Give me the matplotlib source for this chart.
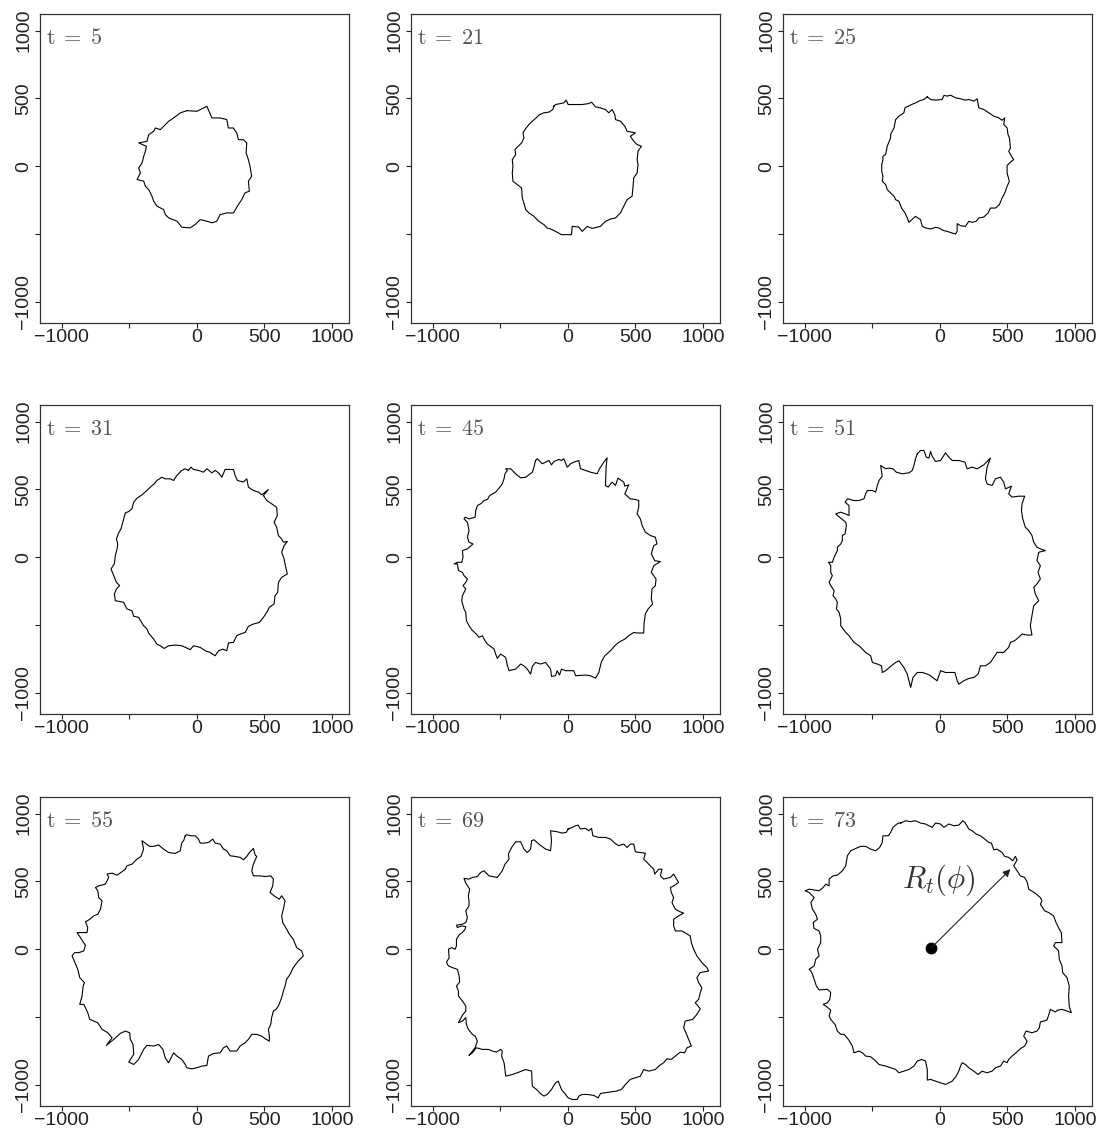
import numpy as np
import matplotlib
matplotlib.use("Agg")
import matplotlib.pyplot as plt

plt.rcParams['font.family'] = ['Liberation Sans', 'DejaVu Sans']
plt.rcParams['mathtext.fontset'] = 'cm'

# Front outlines (data units)
times = [5, 21, 25, 31, 45, 51, 55, 69, 73]

x5 = [-74, 0, 74, 111, 172, 221, 233, 270, 295, 307, 344, 369, 364, 381, 393, 405, 381, 388, 356, 332,
      300, 270, 221, 172, 147, 111, 74, 25, -12, -49, -111, -147, -209, -233, -246, -295, -319, -332, -356, -381,
      -393, -442, -418, -430, -405, -393, -381, -373, -430, -369, -356, -319, -307, -270, -246, -209, -172, -123]
y5 = [410, 405, 442, 356, 356, 344, 282, 282, 245, 196, 196, 172, 98, 49, 0, -74, -110, -184, -196, -245,
      -294, -344, -344, -356, -405, -417, -405, -393, -429, -454, -449, -405, -380, -356, -319, -294, -258, -221, -172, -147,
      -110, -98, -49, -12, 25, 74, 110, 147, 172, 184, 233, 258, 282, 270, 294, 331, 356, 393]

x21 = [-103, -91, -54, -30, -12, 2, 57, 106, 155, 175, 204, 241, 278, 303, 327, 347, 352, 389, 421, 438,
       475, 499, 462, 487, 512, 544, 519, 512, 519, 512, 487, 482, 475, 438, 413, 389, 352, 315, 278, 241,
       180, 143, 106, 81, 32, 27, -47, -91, -128, -153, -177, -214, -251, -288, -312, -325, -337, -342, -374, -406,
       -411, -406, -411, -386, -391, -367, -342, -325, -332, -317, -288, -263, -234, -209, -177, -140, -111]
y21 = [443, 455, 462, 467, 487, 455, 455, 455, 462, 472, 438, 430, 418, 394, 418, 381, 344, 332, 295, 258,
       251, 246, 221, 185, 160, 148, 111, 49, 12, -49, -86, -148, -221, -246, -295, -344, -381, -389, -406, -443,
       -458, -443, -480, -448, -443, -504, -504, -480, -462, -455, -430, -406, -369, -344, -320, -271, -234, -160, -135, -111,
       -49, 0, 49, 86, 123, 148, 172, 209, 246, 271, 308, 332, 357, 381, 394, 399, 418]

x25 = [-93, -69, -32, 17, 30, 54, 79, 116, 153, 189, 214, 251, 276, 288, 325, 362, 399, 435, 460, 480,
       472, 497, 504, 514, 522, 509, 529, 546, 529, 497, 497, 514, 497, 480, 460, 440, 411, 374, 357, 325,
       288, 268, 239, 214, 189, 153, 128, 128, 116, 91, 54, 22, -7, -32, -69, -106, -130, -143, -180, -229,
       -241, -258, -283, -303, -327, -339, -364, -389, -401, -426, -421, -430, -430, -421, -421, -401, -389, -364, -364, -339,
       -327, -303, -266, -258, -234, -209, -180, -143, -118]
y25 = [512, 492, 487, 492, 522, 517, 524, 504, 497, 487, 492, 480, 497, 431, 418, 394, 369, 357, 339, 357,
       308, 283, 234, 209, 135, 111, 74, 49, 37, 5, -49, -111, -148, -197, -234, -283, -308, -308, -344, -374,
       -381, -406, -413, -406, -443, -438, -423, -480, -499, -492, -480, -472, -455, -450, -462, -455, -443, -394, -369, -413,
       -381, -344, -308, -258, -246, -221, -197, -172, -135, -111, -74, -37, 12, 49, 74, 86, 148, 209, 234, 283,
       344, 369, 394, 431, 443, 455, 467, 485, 492]

x31 = [-62, -44, -25, 12, 49, 74, 111, 135, 160, 185, 209, 246, 271, 283, 300, 344, 369, 381, 418, 455,
       480, 529, 492, 517, 553, 590, 595, 571, 590, 603, 627, 640, 669, 645, 627, 645, 652, 669, 627, 603,
       598, 578, 571, 536, 517, 492, 462, 418, 381, 357, 320, 295, 271, 234, 221, 192, 160, 135, 98, 62,
       25, -25, -49, -111, -160, -209, -241, -271, -295, -320, -357, -369, -394, -431, -467, -480, -517, -541, -603, -610,
       -595, -571, -595, -615, -635, -610, -603, -590, -585, -595, -578, -561, -541, -529, -504, -480, -467, -443, -406, -369,
       -344, -315, -295, -258, -234, -197, -172, -148, -111, -86]
y31 = [640, 664, 647, 640, 627, 652, 622, 640, 622, 590, 647, 647, 647, 603, 566, 554, 578, 517, 492, 480,
       460, 499, 455, 418, 394, 369, 308, 258, 221, 160, 135, 111, 116, 86, 37, -12, -49, -123, -148, -185,
       -258, -283, -344, -369, -406, -443, -480, -492, -509, -554, -566, -578, -627, -632, -689, -677, -689, -726, -701, -689,
       -664, -652, -681, -652, -647, -652, -672, -652, -640, -603, -558, -529, -504, -443, -435, -394, -381, -332, -320, -271,
       -234, -209, -185, -135, -86, -49, 12, 62, 98, 135, 180, 209, 283, 327, 337, 357, 406, 435, 460, 492,
       517, 541, 566, 590, 578, 578, 566, 603, 640, 652]

x45 = [-239, -226, -189, -165, -140, -121, -103, -66, -47, -30, -5, 20, 44, 81, 93, 130, 167, 216, 234, 266,
       290, 283, 278, 298, 327, 352, 371, 396, 413, 421, 450, 421, 462, 499, 524, 524, 512, 536, 549, 573,
       610, 647, 659, 635, 617, 642, 684, 635, 617, 652, 647, 622, 617, 627, 593, 573, 563, 561, 512, 487,
       450, 421, 376, 347, 315, 273, 248, 229, 204, 167, 130, 57, 44, -17, -47, -62, -79, -91, -121, -128,
       -165, -202, -239, -263, -276, -300, -325, -349, -386, -435, -448, -460, -497, -522, -534, -546, -571, -595, -613, -632,
       -657, -677, -711, -731, -750, -755, -768, -785, -780, -755, -775, -755, -743, -768, -780, -809, -817, -841, -817, -785,
       -775, -780, -743, -701, -731, -743, -731, -743, -768, -760, -731, -686, -681, -669, -645, -620, -595, -578, -534, -497,
       -485, -472, -465, -448, -460, -423, -386, -349, -312, -263, -251]
y45 = [713, 726, 689, 701, 713, 681, 706, 721, 713, 726, 664, 689, 701, 713, 652, 640, 627, 615, 652, 701,
       733, 664, 529, 517, 554, 529, 583, 566, 554, 524, 534, 467, 430, 426, 418, 369, 320, 283, 234, 185,
       160, 148, 98, 86, 25, -25, -32, -62, -111, -160, -209, -234, -308, -344, -381, -418, -492, -558, -558, -554,
       -578, -603, -627, -652, -689, -726, -770, -849, -891, -873, -868, -873, -836, -836, -824, -868, -836, -873, -878, -824,
       -775, -787, -775, -804, -861, -824, -800, -787, -824, -836, -795, -738, -713, -745, -713, -676, -657, -640, -615, -578,
       -590, -566, -534, -504, -467, -406, -381, -320, -283, -234, -209, -185, -160, -135, -111, -98, -49, -49, -37, -37,
       0, 49, 62, 98, 111, 148, 197, 258, 283, 295, 283, 295, 344, 381, 394, 418, 426, 455, 480, 524,
       541, 578, 615, 640, 652, 652, 615, 585, 590, 627, 664]

x51 = [-167, -143, -118, -101, -81, -69, -57, -32, 5, 42, 66, 91, 140, 185, 202, 239, 276, 325, 374, 349,
       337, 349, 386, 411, 448, 472, 485, 529, 509, 534, 583, 627, 608, 603, 613, 632, 657, 681, 694, 718,
       743, 780, 731, 718, 743, 726, 743, 718, 694, 706, 731, 694, 681, 669, 681, 645, 608, 583, 553, 522,
       509, 472, 423, 399, 374, 337, 300, 283, 251, 214, 177, 140, 128, 111, 66, 42, 5, -20, -44, -69,
       -93, -130, -167, -199, -216, -241, -266, -303, -327, -364, -401, -426, -431, -462, -499, -512, -549, -573, -598, -635,
       -672, -696, -733, -733, -745, -765, -758, -770, -790, -782, -807, -819, -795, -807, -807, -824, -795, -782, -758, -758,
       -733, -721, -721, -701, -691, -696, -758, -770, -733, -701, -672, -672, -701, -684, -635, -598, -561, -549, -536, -499,
       -475, -462, -450, -426, -438, -401, -376, -347, -322, -278, -229, -204, -192, -180]
y51 = [763, 787, 787, 738, 731, 780, 745, 706, 713, 770, 738, 713, 713, 701, 652, 664, 652, 681, 731, 664,
       578, 541, 529, 578, 590, 554, 504, 524, 467, 443, 450, 450, 394, 344, 283, 221, 197, 160, 111, 74,
       62, 49, 37, -25, -62, -111, -160, -197, -221, -271, -320, -357, -430, -504, -573, -573, -566, -590, -615, -627,
       -664, -701, -701, -738, -775, -800, -800, -861, -886, -893, -910, -935, -910, -849, -849, -849, -836, -910, -893, -873,
       -861, -849, -849, -886, -959, -861, -812, -763, -775, -804, -836, -849, -800, -787, -775, -726, -701, -677, -652, -627,
       -578, -554, -504, -455, -406, -381, -332, -308, -283, -246, -209, -185, -135, -111, -62, -37, -37, 0, 49, 74,
       98, 123, 160, 172, 234, 258, 308, 320, 332, 320, 308, 381, 406, 431, 418, 418, 431, 467, 492, 492,
       480, 529, 566, 598, 677, 652, 657, 652, 627, 615, 622, 640, 677, 726]

x55 = [-86, -74, -44, -12, 12, 25, 49, 86, 118, 135, 172, 197, 221, 246, 283, 320, 344, 369, 389, 418,
       431, 443, 418, 406, 418, 462, 504, 546, 566, 561, 541, 578, 610, 627, 652, 640, 627, 635, 664, 684,
       713, 738, 775, 787, 750, 713, 689, 664, 652, 640, 627, 603, 585, 566, 553, 546, 529, 536, 536, 504,
       480, 443, 406, 381, 357, 320, 295, 246, 221, 197, 172, 123, 86, 74, 37, 0, -37, -74, -86, -111,
       -148, -172, -197, -209, -234, -251, -283, -320, -369, -394, -431, -467, -504, -467, -472, -492, -497, -529, -566, -615,
       -669, -627, -659, -701, -733, -763, -792, -807, -836, -866, -849, -841, -831, -866, -881, -891, -923, -905, -873, -836,
       -824, -841, -861, -886, -849, -812, -807, -824, -792, -763, -733, -713, -701, -726, -733, -750, -726, -677, -652, -664,
       -627, -590, -561, -529, -517, -480, -443, -413, -394, -406, -381, -349, -320, -283, -246, -209, -160, -123, -111, -98]
y55 = [836, 844, 836, 836, 812, 782, 782, 787, 812, 782, 775, 738, 726, 689, 684, 677, 659, 684, 713, 743,
       694, 684, 627, 578, 541, 541, 536, 541, 517, 467, 418, 389, 369, 394, 357, 295, 246, 197, 148, 111,
       74, 12, -12, -49, -86, -135, -185, -221, -271, -308, -357, -418, -443, -455, -504, -554, -590, -640, -677, -659,
       -640, -627, -627, -664, -689, -713, -750, -750, -713, -726, -763, -768, -787, -856, -861, -873, -881, -873, -849, -812,
       -787, -763, -812, -836, -800, -738, -701, -713, -708, -738, -812, -849, -831, -775, -701, -664, -615, -603, -620, -664,
       -708, -652, -615, -590, -541, -529, -517, -467, -406, -406, -344, -271, -246, -209, -148, -123, -49, -25, -25, -12,
       30, 54, 86, 123, 123, 123, 160, 202, 221, 246, 258, 295, 357, 381, 431, 455, 467, 480, 529, 554,
       561, 546, 566, 590, 615, 627, 664, 684, 738, 800, 782, 758, 758, 768, 738, 713, 706, 726, 787, 800]

x69 = [2, 32, 57, 76, 93, 130, 155, 175, 185, 229, 278, 315, 347, 376, 413, 438, 462, 487, 499, 536,
       573, 561, 598, 635, 642, 672, 696, 684, 708, 758, 782, 819, 782, 758, 765, 782, 770, 795, 831, 856,
       819, 782, 782, 795, 844, 905, 913, 930, 954, 991, 1028, 1041, 979, 954, 967, 991, 979, 967, 942, 979,
       954, 923, 868, 856, 873, 893, 913, 881, 863, 831, 795, 765, 733, 708, 672, 647, 598, 561, 536, 499,
       462, 426, 396, 357, 303, 241, 224, 192, 143, 106, 81, 69, 32, 2, -17, -47, -71, -91, -103, -121,
       -153, -177, -209, -226, -263, -268, -312, -342, -374, -411, -460, -465, -472, -490, -485, -497, -529, -558, -588, -632,
       -677, -706, -731, -686, -669, -686, -706, -736, -750, -755, -780, -809, -780, -755, -755, -780, -809, -809, -824, -800,
       -804, -817, -854, -883, -898, -878, -883, -859, -834, -824, -824, -804, -780, -760, -755, -785, -817, -824, -780, -755,
       -743, -755, -731, -731, -736, -726, -755, -768, -731, -706, -669, -645, -620, -603, -583, -522, -485, -465, -435, -440,
       -416, -386, -349, -325, -300, -276, -268, -251, -214, -165, -128, -121, -128, -79, -42, -12]
y69 = [886, 898, 910, 915, 886, 891, 873, 891, 836, 824, 824, 812, 782, 763, 775, 750, 775, 775, 718, 713,
       708, 664, 627, 590, 554, 590, 590, 541, 517, 529, 554, 492, 467, 455, 418, 381, 344, 295, 276, 266,
       246, 221, 172, 135, 135, 98, 49, 0, -49, -98, -135, -160, -172, -209, -246, -283, -320, -369, -394, -438,
       -480, -517, -529, -578, -615, -664, -713, -726, -763, -758, -787, -812, -807, -836, -861, -886, -898, -886, -935, -947,
       -959, -996, -1033, -1046, -1053, -1063, -1095, -1077, -1070, -1070, -1082, -1107, -1107, -1095, -1070, -1033, -972, -984, -1004, -1033,
       -1070, -1082, -1058, -1038, -1009, -898, -886, -898, -910, -923, -935, -886, -836, -787, -750, -738, -758, -750, -738, -738,
       -726, -763, -782, -726, -677, -640, -627, -590, -554, -504, -529, -541, -487, -455, -418, -381, -344, -308, -271, -241,
       -197, -148, -135, -123, -98, -62, 0, 12, 0, 25, 74, 106, 123, 148, 167, 172, 160, 177, 185, 197,
       234, 283, 320, 357, 394, 443, 487, 522, 517, 529, 536, 566, 578, 561, 541, 529, 578, 627, 664, 701,
       750, 792, 792, 738, 713, 738, 800, 807, 775, 738, 726, 800, 873, 866, 856, 861]

x73 = [-290, -253, -216, -180, -143, -106, -81, -57, -32, 5, 30, 66, 103, 140, 170, 185, 214, 239, 268, 300,
       332, 362, 381, 399, 423, 460, 480, 509, 539, 558, 571, 546, 571, 595, 627, 645, 657, 706, 743, 755,
       743, 775, 804, 841, 859, 883, 898, 903, 854, 841, 878, 883, 903, 908, 940, 957, 952, 957, 972, 940,
       903, 873, 854, 817, 804, 792, 743, 736, 718, 681, 637, 620, 645, 627, 595, 563, 534, 509, 497, 472,
       448, 411, 386, 349, 312, 283, 251, 214, 189, 165, 153, 140, 121, 91, 42, 5, -32, -69, -93, -93,
       -106, -135, -167, -192, -229, -266, -303, -327, -364, -401, -450, -487, -512, -549, -573, -598, -635, -647, -677, -708,
       -733, -758, -775, -807, -819, -807, -844, -863, -831, -814, -807, -831, -893, -913, -930, -942, -954, -967, -930, -918,
       -893, -905, -881, -881, -893, -930, -937, -905, -918, -942, -954, -930, -967, -996, -967, -893, -863, -844, -819, -819,
       -790, -758, -721, -696, -684, -659, -622, -585, -549, -512, -475, -445, -426, -421, -381, -364, -347, -327, -308]
y73 = [930, 947, 940, 947, 930, 923, 910, 898, 930, 923, 898, 923, 910, 915, 947, 935, 886, 873, 849, 836,
       812, 787, 782, 733, 738, 713, 684, 677, 652, 684, 659, 615, 578, 541, 529, 497, 443, 413, 381, 357,
       332, 283, 271, 246, 197, 148, 123, 49, 49, 25, -12, -74, -123, -172, -209, -271, -344, -423, -467, -455,
       -443, -448, -462, -443, -487, -522, -536, -578, -603, -615, -603, -640, -677, -713, -733, -763, -787, -812, -836, -824,
       -861, -873, -898, -910, -898, -923, -898, -873, -849, -836, -861, -898, -935, -972, -996, -984, -972, -959, -964, -886,
       -824, -812, -824, -861, -886, -898, -910, -886, -873, -861, -849, -812, -792, -787, -763, -750, -763, -713, -664, -627,
       -627, -603, -554, -517, -492, -448, -418, -406, -394, -369, -320, -295, -300, -271, -221, -185, -160, -148, -123, -74,
       -49, 0, 49, 98, 135, 153, 197, 221, 258, 295, 344, 381, 418, 431, 443, 431, 455, 480, 467, 517,
       541, 546, 578, 615, 689, 726, 743, 758, 758, 738, 726, 750, 787, 836, 836, 861, 898, 915, 930]

xs = [x5, x21, x25, x31, x45, x51, x55, x69, x73]
ys = [y5, y21, y25, y31, y45, y51, y55, y69, y73]

# origin marker and arrow tip in the last panel
origin = (-62, 12)
arrow_tip = (522, 590)

tick_pos = [-1000, -500, 0, 500, 1000]
tick_lab = ['\u22121000', '', '0', '500', '1000']

W, H = 1103, 1130
fig = plt.figure(figsize=(W / 100, H / 100), dpi=100)

col_left = [40, 411, 783]
row_top = [14, 405, 797]
size = 309

for i, t in enumerate(times):
    r, c = divmod(i, 3)
    ax = fig.add_axes([col_left[c] / W, (H - row_top[r] - size) / H, size / W, size / H])
    xx = np.append(xs[i], xs[i][0])
    yy = np.append(ys[i], ys[i][0])
    ax.plot(xx, yy, color='black', lw=0.8)
    ax.set_xlim(-1160, 1125)
    ax.set_ylim(-1155, 1122)
    ax.set_xticks(tick_pos)
    ax.set_xticklabels(tick_lab)
    ax.set_yticks(tick_pos)
    ax.set_yticklabels(tick_lab, rotation=90, va='center')
    ax.tick_params(direction='out', length=3.6, width=0.8, colors='#222222',
                   labelsize=14)
    ax.tick_params(axis='x', pad=0.5)
    ax.tick_params(axis='y', pad=2)
    for s in ax.spines.values():
        s.set_color('#333333')
        s.set_linewidth(0.9)
    ax.text(0.02, 0.92, r'$\mathrm{t}\;=\;%d$' % t, transform=ax.transAxes,
            fontsize=16, color='#555555', va='center', ha='left')
    if t == 73:
        ax.plot(*origin, 'o', color='black', ms=7.5)
        ax.annotate('', xy=arrow_tip, xytext=origin,
                    arrowprops=dict(arrowstyle='-|>', lw=0.8, color='#222222',
                                    mutation_scale=11, shrinkA=0, shrinkB=0))
        ax.text(-10, 505, r'$R_t(\phi)$', fontsize=22, color='#333333',
                ha='center', va='center')

fig.savefig('out.png', dpi=100)
